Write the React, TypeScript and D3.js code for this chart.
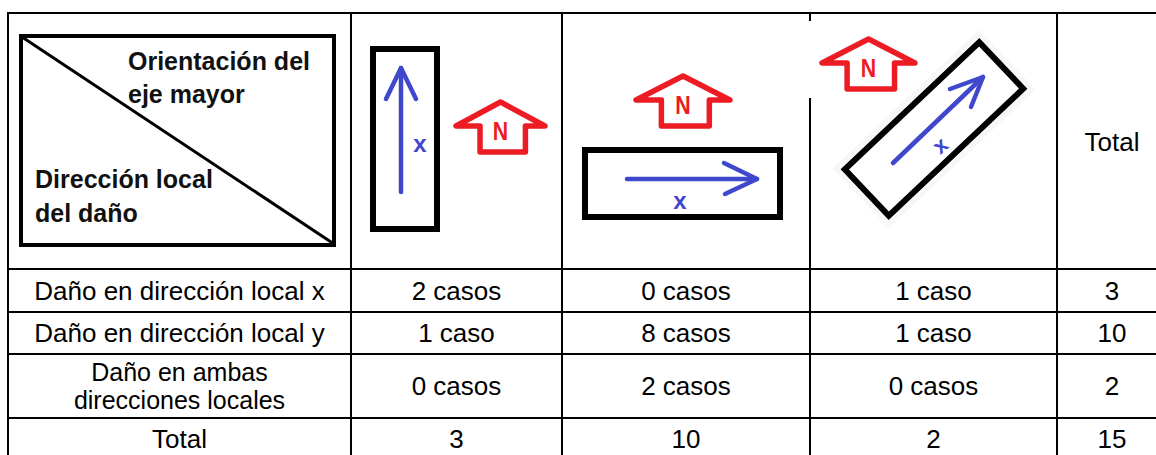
import React from "react";
import * as d3 from "d3";

// table content
const orientations = ["vertical", "horizontal", "diagonal"];
const damageRows = [
  ["Daño en dirección local x"],
  ["Daño en dirección local y"],
  ["Daño en ambas", "direcciones locales"],
];
const casesX = [2, 0, 1];
const casesY = [1, 8, 1];
const casesBoth = [0, 2, 0];
const rowTotals = [3, 10, 2];
const colTotals = [3, 10, 2];
const grandTotal = 15;
const totalLabel = "Total";
const cornerTop = ["Orientación del", "eje mayor"];
const cornerBottom = ["Dirección local", "del daño"];

const W = 1156, H = 455;
const colEdges = [8, 351, 562, 810, 1057, 1167];
const rowEdges = [13, 269, 312, 354, 418, 458];
const BLUE = "#3f48cc";
const RED = "#ed1c24";
const FONT = "'Liberation Sans', Arial, sans-serif";

const colKeys = ["label", ...orientations, "total"];
const xCenter = d3.scaleOrdinal<string, number>()
  .domain(colKeys)
  .range(colKeys.map((_, i) => (colEdges[i] + colEdges[i + 1]) / 2));

const line = d3.line<[number, number]>();

function casos(n: number) {
  return n + (n === 1 ? " caso" : " casos");
}

// red "N" north arrow
function NorthArrow({ x, y, w }: { x: number; y: number; w: number }) {
  const pts: [number, number][] = [
    [0, 24], [w * 0.27, 24], [w * 0.27, 50], [w * 0.78, 50],
    [w * 0.78, 24], [w, 24], [w / 2, 0],
  ];
  return (
    <g transform={`translate(${x},${y})`}>
      <path d={line(pts) + "Z"} fill="#fff" stroke={RED} strokeWidth={5.5} strokeLinejoin="round" />
      <text x={w / 2} y={38.5} textAnchor="middle" fill={RED} fontWeight="bold" fontSize={26}
        transform={`translate(${w / 2},0) scale(0.82,1) translate(${-w / 2},0)`}>N</text>
    </g>
  );
}

function Arrow({ from, to, wings }: { from: [number, number]; to: [number, number]; wings: [number, number][] }) {
  return (
    <g fill="none" stroke={BLUE} strokeWidth={4.5} strokeLinecap="round" strokeLinejoin="round">
      <path d={line([from, to]) as string} />
      <path d={line([wings[0], to, wings[1]]) as string} />
    </g>
  );
}

export default function App() {
  const rows = [casesX, casesY, casesBoth];
  const rowMid = (i: number) => (rowEdges[i] + rowEdges[i + 1]) / 2;

  return (
    <svg width={W} height={H} style={{ position: "absolute", left: 0, top: 0, background: "#fff" }}
      fontFamily={FONT}>
      <rect width={W} height={H} fill="#fff" />

      {/* corner cell */}
      <rect x={21} y={36} width={313} height={209} fill="none" stroke="#000" strokeWidth={4} />
      <path d={line([[22, 37], [334, 244]]) as string} stroke="#000" strokeWidth={3} />
      {cornerTop.map((t, i) => (
        <text key={t} x={128} y={70 + i * 33} fontSize={25} fontWeight="bold" fill="#111">{t}</text>
      ))}
      {cornerBottom.map((t, i) => (
        <text key={t} x={35} y={188 + i * 34} fontSize={25} fontWeight="bold" fill="#111">{t}</text>
      ))}

      {/* vertical orientation */}
      <rect x={373} y={49} width={64} height={180} fill="none" stroke="#000" strokeWidth={6} />
      <Arrow from={[401, 192]} to={[401, 68]} wings={[[386, 99], [416, 99]]} />
      <text x={420} y={152} textAnchor="middle" fill={BLUE} fontWeight="bold" fontSize={24}>x</text>
      <NorthArrow x={456} y={102} w={89} />

      {/* horizontal orientation */}
      <NorthArrow x={636} y={76} w={94} />
      <rect x={585} y={150} width={195} height={67} fill="none" stroke="#000" strokeWidth={6} />
      <Arrow from={[627, 179]} to={[757, 179]} wings={[[724, 163], [725, 194]]} />
      <text x={680} y={209} textAnchor="middle" fill={BLUE} fontWeight="bold" fontSize={24}>x</text>

      {/* diagonal orientation */}
      <g transform="translate(934,129) rotate(-43.4)">
        <rect x={-101} y={-41} width={202} height={82} fill="#f7f7f7" />
        <rect x={-96} y={-36} width={192} height={72} fill="#fff" />
        <rect x={-92.5} y={-32} width={185} height={64} fill="none" stroke="#000" strokeWidth={6} />
      </g>
      <Arrow from={[893, 163]} to={[983, 77]} wings={[[950, 89], [971, 107]]} />
      <text transform="translate(945,151) rotate(-40)" textAnchor="middle" fill={BLUE}
        fontWeight="bold" fontSize={22}>x</text>
      <NorthArrow x={822} y={39} w={93} />

      <text x={xCenter("total")} y={151} textAnchor="middle" fontSize={26}>{totalLabel}</text>

      {/* body rows */}
      {damageRows.map((lab, i) => (
        <g key={i}>
          {lab.map((t, j) => (
            <text key={t} x={xCenter("label")} textAnchor="middle" fontSize={lab.length > 1 ? 25 : 26}
              y={rowMid(i + 1) + 9 + (j - (lab.length - 1) / 2) * 28}>{t}</text>
          ))}
          {orientations.map((o, k) => (
            <text key={o} x={xCenter(o)} y={rowMid(i + 1) + 9} textAnchor="middle" fontSize={26}>
              {casos(rows[i][k])}
            </text>
          ))}
          <text x={xCenter("total")} y={rowMid(i + 1) + 9} textAnchor="middle" fontSize={26}>{rowTotals[i]}</text>
        </g>
      ))}
      <g>
        <text x={xCenter("label")} y={448} textAnchor="middle" fontSize={26}>{totalLabel}</text>
        {orientations.map((o, k) => (
          <text key={o} x={xCenter(o)} y={448} textAnchor="middle" fontSize={26}>{colTotals[k]}</text>
        ))}
        <text x={xCenter("total")} y={448} textAnchor="middle" fontSize={26}>{grandTotal}</text>
      </g>

      {/* grid */}
      <g stroke="#000" strokeWidth={2}>
        {rowEdges.map((y, i) => (
          <line key={"h" + i} x1={colEdges[0] - 1} x2={colEdges[colEdges.length - 1]} y1={y} y2={y} />
        ))}
        {colEdges.map((x, i) => x === 810 ? (
          <g key={"v" + i}>
            <line x1={x} x2={x} y1={rowEdges[0]} y2={21} />
            <line x1={x} x2={x} y1={98} y2={rowEdges[rowEdges.length - 1]} />
          </g>
        ) : (
          <line key={"v" + i} x1={x} x2={x} y1={rowEdges[0]} y2={rowEdges[rowEdges.length - 1]} />
        ))}
      </g>
    </svg>
  );
}
